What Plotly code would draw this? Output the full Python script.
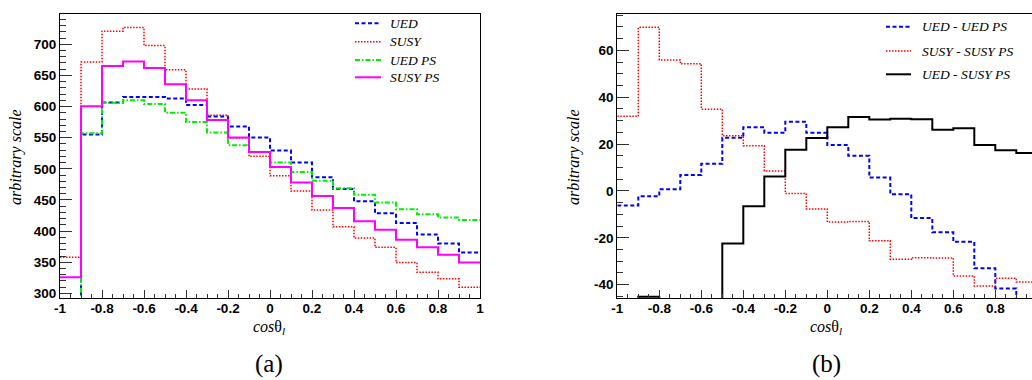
import plotly.graph_objects as go

# ---------------- data ----------------
bin_edges = [-1.0, -0.9, -0.8, -0.7, -0.6, -0.5, -0.4, -0.3, -0.2, -0.1,
             0.0, 0.1, 0.2, 0.3, 0.4, 0.5, 0.6, 0.7, 0.8, 0.9, 1.0]

ued = [278, 555, 606.5, 615.5, 615.5, 613, 602.5, 584, 568, 550.5,
       529.5, 510, 486.5, 467.5, 448, 428.5, 413, 394.5, 380, 365.5]
susy = [358, 671.5, 721, 727, 698, 659, 628, 586, 549.5, 520,
        489, 464.5, 434, 407, 389, 374, 349.5, 334, 323.5, 310]
ued_ps = [284, 557, 606, 610, 604, 590, 575, 558.5, 538, 527,
          510, 495, 481, 469, 458.5, 446, 435, 427, 422, 418]
susy_ps = [326, 600.5, 665, 672.5, 662, 636, 610, 578.5, 550.5, 527,
           503, 478, 456.5, 437, 416, 402, 386, 374, 362, 349.5]

ued_minus_uedps = [-6.2, -2.3, 0.7, 6.8, 11.6, 22.7, 27.2, 24.8, 29.5, 24.8,
                   19.6, 15.0, 5.7, -1.4, -11.6, -17.6, -21.7, -33.0, -41.6, -52.0]
susy_minus_susyps = [31.9, 69.8, 55.9, 54.3, 34.9, 23.5, 19.3, 8.5, -1.1, -7.7,
                     -13.3, -13.1, -21.3, -29.2, -28.5, -28.6, -36.3, -40.6, -37.3, -38.9]
ued_minus_susyps = [-48, -45.2, -58.5, -57, -46.5, -22.4, -6.5, 6.1, 17.6, 22.6,
                    27.2, 31.5, 30.5, 30.8, 30.6, 26.1, 26.7, 19.6, 17.4, 16.2]

x_tick_vals = [-1, -0.8, -0.6, -0.4, -0.2, 0, 0.2, 0.4, 0.6, 0.8, 1]
x_tick_text = ["-1", "-0.8", "-0.6", "-0.4", "-0.2", "0", "0.2", "0.4", "0.6", "0.8", "1"]
yl_tick_vals = [300, 350, 400, 450, 500, 550, 600, 650, 700]
yl_tick_text = ["300", "350", "400", "450", "500", "550", "600", "650", "700"]
yr_tick_vals = [-40, -20, 0, 20, 40, 60]
yr_tick_text = ["-40", "-20", "0", "20", "40", "60"]

left_names = ["UED", "SUSY", "UED PS", "SUSY PS"]
right_names = ["UED - UED PS", "SUSY - SUSY PS", "UED - SUSY PS"]

# ---------------- layout geometry ----------------
W, H = 1032, 380
TOP, BOTTOM = 14, 298
PH = BOTTOM - TOP


def fx(px):
    return px / W


def fy(py):
    return (BOTTOM - py) / PH


styles_left = [
    dict(color="#0000ff", width=2, dash="4px,2.5px"),
    dict(color="#ff0000", width=1.5, dash="1.5px,1.5px"),
    dict(color="#00ee00", width=2, dash="5px,2px,1.5px,2px"),
    dict(color="#ff00ff", width=2, dash="solid"),
]
styles_right = [
    dict(color="#0000ff", width=2, dash="4px,2.5px"),
    dict(color="#ff0000", width=1.5, dash="1.5px,1.5px"),
    dict(color="#000000", width=2, dash="solid"),
]

fig = go.Figure()


def step(values):
    return list(values) + [values[-1]]


for name, vals, st in zip(left_names, [ued, susy, ued_ps, susy_ps], styles_left):
    fig.add_trace(go.Scatter(x=bin_edges, y=step(vals), mode="lines", line_shape="hv",
                             line=st, name=name, showlegend=False,
                             xaxis="x", yaxis="y"))

for name, vals, st in zip(right_names, [ued_minus_uedps, susy_minus_susyps, ued_minus_susyps],
                          styles_right):
    fig.add_trace(go.Scatter(x=bin_edges, y=step(vals), mode="lines", line_shape="hv",
                             line=st, name=name, showlegend=False,
                             xaxis="x2", yaxis="y2"))

tickfont = dict(family="Liberation Sans, Arial", size=13.5, color="black", weight="bold")

common_x = dict(tickmode="array", tickvals=x_tick_vals, ticktext=x_tick_text,
                ticks="inside", ticklen=8, tickcolor="#333", tickwidth=1,
                minor=dict(tickmode="linear", tick0=-1, dtick=0.05, ticks="inside",
                           ticklen=4, tickcolor="#333", tickwidth=1),
                showline=True, linecolor="black", linewidth=1, mirror=True,
                showgrid=False, zeroline=False, tickfont=tickfont, automargin=False,
                ticklabelstandoff=-2, fixedrange=True)

fig.update_layout(
    width=W, height=H,
    margin=dict(l=0, r=0, t=TOP, b=H - BOTTOM),
    paper_bgcolor="white", plot_bgcolor="white",
    showlegend=False,
    xaxis=dict(common_x, domain=[fx(60), fx(480)], range=[-1, 1], anchor="y"),
    yaxis=dict(range=[292.6, 748.6], domain=[0, 1], anchor="x",
               tickmode="array", tickvals=yl_tick_vals, ticktext=yl_tick_text,
               ticks="inside", ticklen=12, tickcolor="#333", tickwidth=1,
               minor=dict(tickmode="linear", tick0=0, dtick=10, ticks="inside",
                          ticklen=6, tickcolor="#333", tickwidth=1),
               showline=True, linecolor="black", linewidth=1, mirror=True,
               showgrid=False, zeroline=False, tickfont=tickfont, automargin=False,
               fixedrange=True),
    xaxis2=dict(common_x, domain=[fx(617.3), 1.0], range=[-1, -1 + (W - 617.3) / 210.0],
                anchor="y2"),
    yaxis2=dict(range=[-45.7, 75.5], domain=[0, 1], anchor="x2",
                tickmode="array", tickvals=yr_tick_vals, ticktext=yr_tick_text,
                ticks="inside", ticklen=12, tickcolor="#333", tickwidth=1,
                minor=dict(tickmode="linear", tick0=0, dtick=5, ticks="inside",
                           ticklen=6, tickcolor="#333", tickwidth=1),
                showline=True, linecolor="black", linewidth=1, mirror=False,
                showgrid=False, zeroline=False, tickfont=tickfont, automargin=False,
                fixedrange=True),
)

serif = "Liberation Serif, Times New Roman, serif"
annotations = []
shapes = []

# axis titles
for xc in (16, 574):
    annotations.append(dict(x=fx(xc), y=fy(157), xref="paper", yref="paper",
                            text="<i>arbitrary scale</i>", textangle=-90, showarrow=False,
                            xanchor="center", yanchor="middle",
                            font=dict(family=serif, size=16, color="black")))
for xc in (269, 826):
    annotations.append(dict(x=fx(xc), y=fy(327), xref="paper", yref="paper",
                            text="<i>cos</i>θ<sub><i>l</i></sub>", showarrow=False,
                            xanchor="center", yanchor="middle",
                            font=dict(family=serif, size=16, color="black")))
for xc, lab in ((269, "(a)"), (826, "(b)")):
    annotations.append(dict(x=fx(xc), y=fy(364), xref="paper", yref="paper",
                            text=lab, showarrow=False, xanchor="center", yanchor="middle",
                            font=dict(family=serif, size=25, color="black")))

# legends
left_leg_y = [23.3, 41.7, 60, 77.3]
for name, st, yy in zip(left_names, styles_left, left_leg_y):
    shapes.append(dict(type="line", xref="paper", yref="paper",
                       x0=fx(355), x1=fx(381), y0=fy(yy), y1=fy(yy), line=st))
    annotations.append(dict(x=fx(388), y=fy(yy), xref="paper", yref="paper",
                            text="<i>" + name + "</i>", showarrow=False,
                            xanchor="left", yanchor="middle",
                            font=dict(family=serif, size=13.5, color="black")))

right_leg_y = [26.7, 51, 74.3]
for name, st, yy in zip(right_names, styles_right, right_leg_y):
    shapes.append(dict(type="line", xref="paper", yref="paper",
                       x0=fx(886), x1=fx(911), y0=fy(yy), y1=fy(yy), line=st))
    annotations.append(dict(x=fx(920), y=fy(yy), xref="paper", yref="paper",
                            text="<i>" + name + "</i>", showarrow=False,
                            xanchor="left", yanchor="middle",
                            font=dict(family=serif, size=13.5, color="black")))

fig.update_layout(annotations=annotations, shapes=shapes)

fig.write_html("out.html")
